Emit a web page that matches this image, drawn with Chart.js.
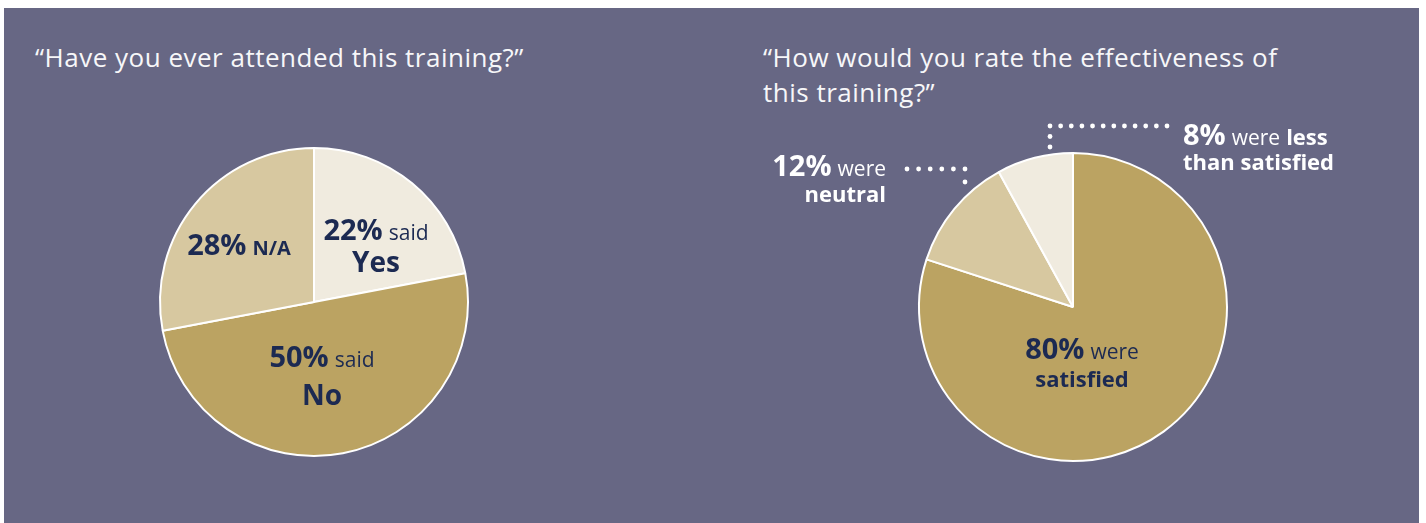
<!DOCTYPE html>
<html lang="en">
    <head>
        <meta charset="UTF-8" />
        <title>Training survey</title>
        <script src="https://cdn.jsdelivr.net/npm/chart.js"></script>
        <style>
            body {
                margin: 0;
                width: 1426px;
                height: 523px;
                background: #ffffff;
                position: relative;
                overflow: hidden;
                font-family: "Open Sans", sans-serif;
            }
            .panel {
                position: absolute;
                left: 4px;
                top: 8px;
                width: 1415px;
                height: 515px;
                background: #676784;
            }
            .question {
                position: absolute;
                color: #f7f7f9;
                font-size: 26px;
                letter-spacing: 0.5px;
                line-height: 35px;
                font-weight: 400;
                white-space: nowrap;
            }
            canvas {
                position: absolute;
            }
        </style>
    </head>
    <body>
        <div class="panel"></div>
        <div class="question" style="left: 35px; top: 40px">
            “Have you ever attended this training?”
        </div>
        <div class="question" style="left: 763px; top: 40px">
            “How would you rate the effectiveness of<br />this training?”
        </div>
        <canvas id="attendChart" width="400" height="400" style="left: 114px; top: 102px"></canvas>
        <canvas id="rateChart" width="680" height="420" style="left: 733px; top: 97px"></canvas>

        <script>
            // survey answers, in percent
            const attendCategories = ["Yes", "No", "N/A"];
            const attendValues = [22, 50, 28];
            const rateCategories = ["satisfied", "neutral", "less than satisfied"];
            const rateValues = [80, 12, 8];

            const LIGHT = "#f0ebdf";
            const MID = "#d7c8a0";
            const GOLD = "#bba362";
            const NAVY = "#1c2a52";

            const PCT = '700 29px "Open Sans"';
            const WORD = '400 21px "Open Sans"';
            const BOLD = '700 22px "Open Sans"';
            const BIG = '700 28px "Open Sans"';

            const pct = (values, i) => [values[i] + "%", PCT];

            // draws text blocks and dotted leaders relative to the pie centre
            const sliceLabels = {
                id: "sliceLabels",
                afterDatasetsDraw(chart, args, opts) {
                    const ctx = chart.ctx;
                    const arc = chart.getDatasetMeta(0).data[0];
                    const cx = arc.x;
                    const cy = arc.y;
                    ctx.save();
                    ctx.textBaseline = "alphabetic";
                    ctx.textAlign = "left";

                    (opts.leaders || []).forEach((pts) => {
                        ctx.fillStyle = "#ffffff";
                        for (let k = 0; k < pts.length - 1; k++) {
                            const [x1, y1] = pts[k];
                            const [x2, y2] = pts[k + 1];
                            const len = Math.hypot(x2 - x1, y2 - y1);
                            const n = Math.max(1, Math.round(len / 10.8));
                            for (let j = k === 0 ? 0 : 1; j <= n; j++) {
                                const t = j / n;
                                ctx.beginPath();
                                ctx.arc(cx + x1 + (x2 - x1) * t, cy + y1 + (y2 - y1) * t, 2.4, 0, Math.PI * 2);
                                ctx.fill();
                            }
                        }
                    });

                    opts.items.forEach((item) => {
                        ctx.fillStyle = item.color || NAVY;
                        item.lines.forEach((runs, li) => {
                            const gap = 6;
                            const widths = runs.map((r) => {
                                ctx.font = r[1];
                                return ctx.measureText(r[0]).width;
                            });
                            const total = widths.reduce((a, b) => a + b, 0) + gap * (runs.length - 1);
                            let x = cx + item.dx;
                            if (item.align === "center") x -= total / 2;
                            if (item.align === "right") x -= total;
                            const y = cy + item.baselines[li];
                            runs.forEach((r, k) => {
                                ctx.font = r[1];
                                ctx.fillText(r[0], x, y);
                                x += widths[k] + gap;
                            });
                        });
                    });
                    ctx.restore();
                },
            };

            function pieConfig(labels, values, colors, labelOpts) {
                return {
                    type: "pie",
                    data: {
                        labels: labels,
                        datasets: [
                            {
                                data: values,
                                backgroundColor: colors,
                                borderColor: "#ffffff",
                                borderWidth: 2,
                                radius: 154,
                            },
                        ],
                    },
                    options: {
                        responsive: false,
                        animation: false,
                        layout: { padding: 0 },
                        plugins: {
                            legend: { display: false },
                            tooltip: { enabled: false },
                            sliceLabels: labelOpts,
                        },
                    },
                    plugins: [sliceLabels],
                };
            }

            new Chart(
                document.getElementById("attendChart"),
                pieConfig(attendCategories, attendValues, [LIGHT, GOLD, MID], {
                    items: [
                        {
                            dx: 62,
                            align: "center",
                            baselines: [-62, -30],
                            lines: [[pct(attendValues, 0), ["said", WORD]], [[attendCategories[0], BIG]]],
                        },
                        {
                            dx: 8,
                            align: "center",
                            baselines: [65, 103],
                            lines: [[pct(attendValues, 1), ["said", WORD]], [[attendCategories[1], BIG]]],
                        },
                        {
                            dx: -75,
                            align: "center",
                            baselines: [-47],
                            lines: [[pct(attendValues, 2), [attendCategories[2], '700 20px "Open Sans"']]],
                        },
                    ],
                })
            );

            new Chart(
                document.getElementById("rateChart"),
                pieConfig(rateCategories, rateValues, [GOLD, MID, LIGHT], {
                    items: [
                        {
                            dx: 9,
                            align: "center",
                            baselines: [52, 80],
                            lines: [[pct(rateValues, 0), ["were", WORD]], [[rateCategories[0], BOLD]]],
                        },
                        {
                            dx: -187,
                            align: "right",
                            color: "#ffffff",
                            baselines: [-131, -105],
                            lines: [[pct(rateValues, 1), ["were", WORD]], [[rateCategories[1], BOLD]]],
                        },
                        {
                            dx: 110,
                            align: "left",
                            color: "#ffffff",
                            baselines: [-162, -137],
                            lines: [
                                [pct(rateValues, 2), ["were", WORD], ["less", BOLD]],
                                [["than satisfied", BOLD]],
                            ],
                        },
                    ],
                    leaders: [
                        [[-166, -138], [-108, -138], [-108, -125]],
                        [[94, -181], [-23, -181], [-23, -160]],
                    ],
                })
            );
        </script>
    </body>
</html>
